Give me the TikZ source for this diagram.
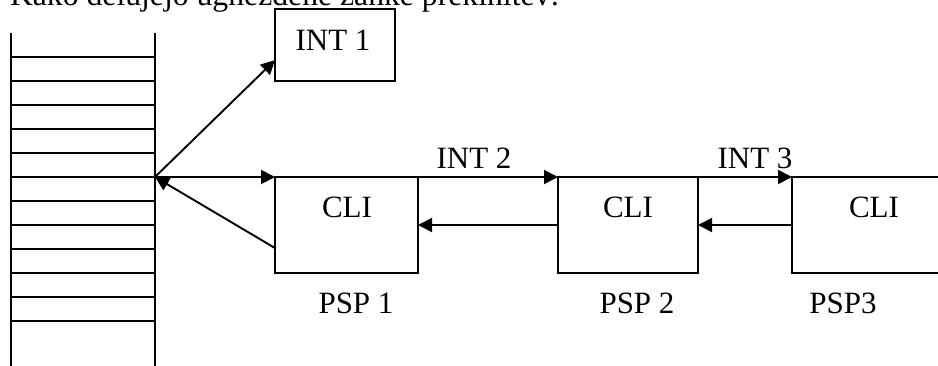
\documentclass[tikz,border=0pt]{standalone}
\usepackage{fontspec}
\setmainfont{Liberation Serif}
\usetikzlibrary{arrows.meta,calc}

\begin{document}
\begin{tikzpicture}[x=1pt,y=-1pt,
    every node/.style={font=\fontsize{31}{36}\selectfont, inner sep=0pt, outer sep=0pt},
    ln/.style={line width=1.9pt},
    arr/.style={ln, -{Triangle[length=14pt,width=14pt]}},
    box/.style={draw, line width=1.9pt, rectangle, anchor=north west},
    txt/.style={anchor=base}]
  \useasboundingbox (0,0) rectangle (938,365);

  % heading line above the figure
  \node[anchor=base west, font=\fontsize{31.7}{37}\selectfont] (title) at (10,5)
    {Kako delujejo ugnezdene zanke prekinitev:};

  % stack with its slots
  \coordinate (stl) at (11,33);
  \coordinate (str) at (155,33);
  \draw[ln] (stl) -- (11,370);
  \draw[ln] (str) -- (155,370);
  \foreach \k in {0,...,11}
    \draw[ln] (11,57+24*\k) -- (155,57+24*\k);
  \coordinate (hub) at (155,177);

  % interrupt routine and the three processes
  \node[box, minimum width=120pt, minimum height=72pt] (int1) at (275,9) {};
  \node[txt] (int1t) at (333,50) {INT 1};

  \node[box, minimum width=143pt, minimum height=96pt] (p1) at (275,177) {};
  \node[box, minimum width=140pt, minimum height=96pt] (p2) at (558,177) {};
  \node[box, minimum width=164pt, minimum height=96pt] (p3) at (792,177) {};

  \node[txt] (c1) at (347,217) {CLI};
  \node[txt] (c2) at (628,217) {CLI};
  \node[txt] (c3) at (874,217) {CLI};

  \node[txt] (s1) at (356,313) {PSP 1};
  \node[txt] (s2) at (637,313) {PSP 2};
  \node[txt] (s3) at (843,313) {PSP3};

  \node[txt] (i2) at (474,168) {INT 2};
  \node[txt] (i3) at (755,168) {INT 3};

  % connectors
  \draw[arr] (hub) -- ($(int1.south west)!0.29!(int1.north west)$);
  \draw[arr] (hub) -- (p1.north west);
  \draw[arr] ($(p1.south west)!0.26!(p1.north west)$) -- (hub);
  \draw[arr] (p1.north east) -- (p2.north west);
  \draw[arr] (p2.west) -- (p1.east);
  \draw[arr] (p2.north east) -- (p3.north west);
  \draw[arr] (p3.west) -- (p2.east);
\end{tikzpicture}
\end{document}
